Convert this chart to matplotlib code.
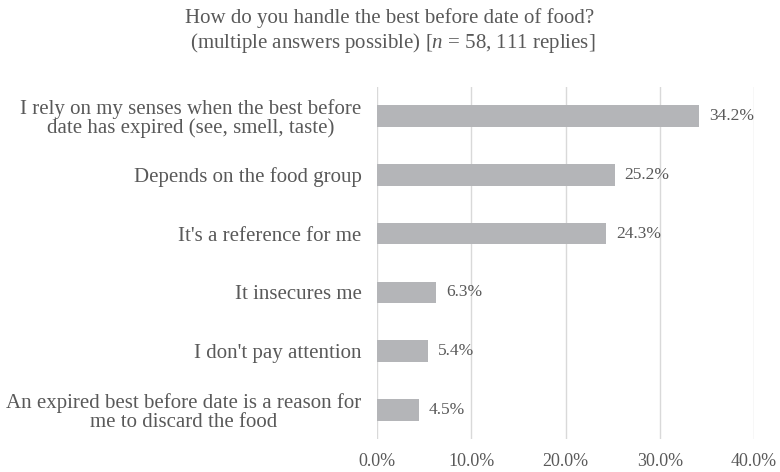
import matplotlib.pyplot as plt
from matplotlib.ticker import FuncFormatter

categories = [
    "I rely on my senses when the best before\ndate has expired (see, smell, taste)",
    "Depends on the food group",
    "It's a reference for me",
    "It insecures me",
    "I don't pay attention",
    "An expired best before date is a reason for\nme to discard the food",
]
values = [34.2, 25.2, 24.3, 6.3, 5.4, 4.5]
ticks = [0, 10, 20, 30, 40]

plt.rcParams['font.family'] = ['Liberation Serif', 'DejaVu Serif']
plt.rcParams['mathtext.fontset'] = 'custom'
plt.rcParams['mathtext.rm'] = 'Liberation Serif'
plt.rcParams['mathtext.it'] = 'Liberation Serif:italic'
text_col = '#595959'

fig = plt.figure(figsize=(7.8, 4.72), dpi=100)
ax = fig.add_axes([0.4833, 0.0689, 0.4834, 0.7478])

y = list(range(len(categories)))
ax.barh(y, values, height=0.37, color='#B4B5B8', zorder=3)
for yi, v in zip(y, values):
    ax.annotate(f"{v:.1f}%", (v, yi), xytext=(7, 0), textcoords='offset points',
                va='center', ha='left', fontsize=12.5, color=text_col)

ax.set_ylim(len(categories) - 0.5, -0.5)
ax.set_xlim(0, 40)
ax.set_xticks(ticks)
ax.xaxis.set_major_formatter(FuncFormatter(lambda v, p: f"{v:.1f}%"))
ax.set_yticks(y)
ax.set_yticklabels(categories, fontsize=15, color=text_col, ha='right',
                   multialignment='center', linespacing=1.0)
ax.tick_params(axis='x', length=0, pad=10, labelsize=13, labelcolor=text_col)
ax.tick_params(axis='y', length=0, pad=11)
ax.grid(axis='x', color='#D9D9D9', linewidth=1, zorder=0)
for s in ax.spines.values():
    s.set_visible(False)

fig.text(0.5, 0.962, "How do you handle the best before date of food?",
         ha='center', va='center', fontsize=15, color=text_col)
fig.text(0.5, 0.909, " (multiple answers possible) [$\\it{n}$ = 58, 111 replies]",
         ha='center', va='center', fontsize=15, color=text_col)

fig.savefig('out.png', dpi=100)
